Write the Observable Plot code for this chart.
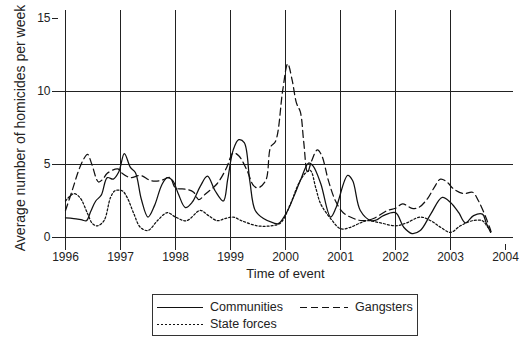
<!DOCTYPE html>
<html>
<head>
<meta charset="utf-8">
<script src="https://cdn.jsdelivr.net/npm/d3@7"></script>
<script src="https://cdn.jsdelivr.net/npm/@observablehq/plot@0.6"></script>
<style>
  html, body { margin: 0; padding: 0; background: white; }
  #wrap { position: relative; width: 527px; height: 346px; font-family: "Liberation Sans", Arial, sans-serif; color: #222; }
  #legend { position: absolute; left: 152px; top: 294px; width: 264px; height: 40px; border: 1px solid #333; box-sizing: content-box; }
  .item { position: absolute; font-size: 12.5px; line-height: 14px; }
  .item svg { position: absolute; top: 0; }
</style>
</head>
<body>
<div id="wrap"></div>
<script>
// ---- data ----
const commT = [1996.00,1996.15,1996.30,1996.38,1996.46,1996.55,1996.65,1996.76,1996.87,1996.97,1997.07,1997.18,1997.27,1997.38,1997.50,1997.62,1997.75,1997.85,1997.95,1998.05,1998.18,1998.30,1998.45,1998.58,1998.72,1998.87,1998.95,1999.05,1999.15,1999.25,1999.35,1999.45,1999.60,1999.78,1999.87,2000.04,2000.15,2000.27,2000.42,2000.50,2000.64,2000.82,2000.92,2001.13,2001.22,2001.36,2001.55,2001.65,2001.78,2002.00,2002.15,2002.30,2002.45,2002.64,2002.85,2003.00,2003.15,2003.27,2003.42,2003.58,2003.65,2003.73];
const commV = [1.35,1.3,1.2,1.15,1.8,2.5,2.9,4.1,4.0,4.5,5.75,4.8,4.45,2.6,1.4,2.2,3.6,4.1,3.9,3.0,2.05,2.4,3.5,4.2,3.2,2.5,4.0,6.0,6.7,6.5,3.9,1.85,1.3,1.0,0.95,1.85,2.8,3.9,5.1,4.9,3.7,1.4,2.05,4.25,3.9,1.85,1.16,1.2,1.5,1.7,0.7,0.27,0.48,1.6,2.75,2.4,1.7,1.0,1.5,1.6,1.0,0.35];

const gangT = [1996.00,1996.12,1996.24,1996.32,1996.40,1996.48,1996.60,1996.68,1996.76,1996.95,1997.03,1997.18,1997.36,1997.55,1997.73,1997.90,1998.00,1998.20,1998.33,1998.42,1998.55,1998.76,1998.93,1999.00,1999.05,1999.15,1999.30,1999.42,1999.50,1999.64,1999.73,1999.82,1999.95,2000.04,2000.12,2000.20,2000.27,2000.33,2000.40,2000.47,2000.58,2000.66,2000.78,2000.91,2001.05,2001.24,2001.40,2001.60,2001.85,2002.00,2002.13,2002.30,2002.42,2002.58,2002.70,2002.82,2002.95,2003.05,2003.24,2003.40,2003.51,2003.64,2003.73];
const gangV = [1.85,3.2,4.6,5.3,5.7,5.0,3.8,4.0,4.4,4.7,4.4,4.1,4.25,3.9,3.9,4.1,3.4,3.3,3.1,2.6,3.0,3.7,4.8,5.5,5.8,5.6,4.6,3.55,3.4,3.9,6.2,6.6,10.1,11.9,10.8,9.2,8.6,6.6,4.45,5.2,6.0,5.6,3.9,2.5,1.7,1.3,1.15,1.3,1.85,2.0,2.3,2.0,2.05,2.65,3.4,4.0,3.75,3.35,3.0,3.1,2.5,1.4,0.5];

const stateT = [1996.00,1996.15,1996.26,1996.40,1996.49,1996.58,1996.70,1996.82,1996.90,1997.03,1997.12,1997.24,1997.36,1997.50,1997.67,1997.85,1998.00,1998.20,1998.45,1998.60,1998.76,1998.90,1999.05,1999.20,1999.49,1999.73,1999.91,2000.09,2000.24,2000.36,2000.45,2000.55,2000.64,2000.82,2001.00,2001.18,2001.36,2001.49,2001.73,2002.00,2002.20,2002.45,2002.64,2002.82,2003.00,2003.18,2003.40,2003.58,2003.66,2003.75];
const stateV = [2.5,3.0,2.75,1.65,0.95,0.8,1.15,2.75,3.2,3.2,2.75,1.65,0.7,0.48,1.15,1.7,1.4,1.15,1.85,1.5,1.15,1.3,1.4,1.15,0.8,0.8,1.0,2.3,3.7,4.4,4.6,3.4,2.3,1.3,0.6,0.7,1.0,1.15,1.0,0.8,1.0,1.4,1.15,0.7,0.35,0.8,1.15,1.15,0.8,0.35];

const seriesNames = ["Communities", "Gangsters", "State forces"];
const xTicks = [1996, 1997, 1998, 1999, 2000, 2001, 2002, 2003, 2004];
const yTicks = [0, 5, 10, 15];
const yGrid = [0, 5, 10];

// ---- styling ----
const dashes = {"Communities": null, "Gangsters": "7,4", "State forces": "2,2"};
const ink = "#222";

const toRows = (T, V, s) => T.map((t, i) => ({t, v: V[i], s}));
const rows = [
  ...toRows(commT, commV, seriesNames[0]),
  ...toRows(gangT, gangV, seriesNames[1]),
  ...toRows(stateT, stateV, seriesNames[2])
];

// axis-extent helpers (in data units)
const W = 527, H = 286, mL = 65, mR = 22, mT = 18, mB = 49;
const pxPerYear = (W - mL - mR) / 8;
const pxPerUnit = (H - mT - mB) / 15;
const xLeftExt = 1996 - 13 / pxPerYear;
const xRightExt = 2004 + 8 / pxPerYear;
const xTickEnd = 1996 - 7 / pxPerYear;
const yTop = 15 + 8 / pxPerUnit;
const yBot = -13 / pxPerUnit;
const yTickTop = -7 / pxPerUnit;

const chart = Plot.plot({
  width: W, height: H,
  marginLeft: mL, marginRight: mR, marginTop: mT, marginBottom: mB,
  style: {fontFamily: "'Liberation Sans', Arial, sans-serif", fontSize: "12px", color: ink, background: "white", overflow: "visible"},
  x: {domain: [1996, 2004]},
  y: {domain: [0, 15]},
  marks: [
    Plot.ruleY(yGrid, {y: d => d, x1: xLeftExt, x2: xRightExt, stroke: ink, strokeWidth: 1}),
    Plot.ruleY([15], {y: d => d, x1: xLeftExt, x2: xTickEnd, stroke: ink, strokeWidth: 1}),
    Plot.ruleX(xTicks.slice(0, -1), {x: d => d, y1: yBot, y2: yTop, stroke: ink, strokeWidth: 1}),
    Plot.ruleX(xTicks.slice(-1), {x: d => d, y1: yBot, y2: yTickTop, stroke: ink, strokeWidth: 1}),
    Plot.axisX(xTicks, {tickSize: 0, tickPadding: 15, tickFormat: d => String(d), label: null, fill: ink, fontSize: 12}),
    Plot.axisY(yTicks, {tickSize: 0, tickPadding: 15, label: null, fill: ink, fontSize: 12}),
    ...seriesNames.map(name => Plot.line(rows.filter(r => r.s === name), {
      x: "t", y: "v", curve: "catmull-rom", stroke: "#111", strokeWidth: 1.25,
      strokeDasharray: dashes[name]
    })),
    Plot.text(["Average number of homicides per week"], {frameAnchor: "left", dx: -45, rotate: -90, fontSize: 14, fill: ink, textAnchor: "middle"}),
    Plot.text(["Time of event"], {frameAnchor: "bottom", dy: 40, fontSize: 13, fill: ink})
  ]
});

const wrap = document.getElementById("wrap");
wrap.appendChild(chart);

// legend
const legend = document.createElement("div");
legend.id = "legend";
const items = [
  {name: seriesNames[0], left: 4, top: 5, sample: 46},
  {name: seriesNames[1], left: 147, top: 5, sample: 48},
  {name: seriesNames[2], left: 4, top: 22, sample: 46}
];
for (const it of items) {
  const d = document.createElement("div");
  d.className = "item";
  d.style.left = it.left + "px";
  d.style.top = it.top + "px";
  const svgNS = "http://www.w3.org/2000/svg";
  const s = document.createElementNS(svgNS, "svg");
  s.setAttribute("width", it.sample);
  s.setAttribute("height", 14);
  s.style.left = "0px";
  const l = document.createElementNS(svgNS, "line");
  l.setAttribute("x1", 0); l.setAttribute("x2", it.sample);
  l.setAttribute("y1", 7.5); l.setAttribute("y2", 7.5);
  l.setAttribute("stroke", "#111"); l.setAttribute("stroke-width", 1.1);
  if (dashes[it.name]) l.setAttribute("stroke-dasharray", dashes[it.name]);
  s.appendChild(l);
  d.appendChild(s);
  const t = document.createElement("span");
  t.textContent = it.name;
  t.style.position = "absolute";
  t.style.left = (it.sample + 7) + "px";
  t.style.whiteSpace = "nowrap";
  d.appendChild(t);
  legend.appendChild(d);
}
wrap.appendChild(legend);
</script>
</body>
</html>
